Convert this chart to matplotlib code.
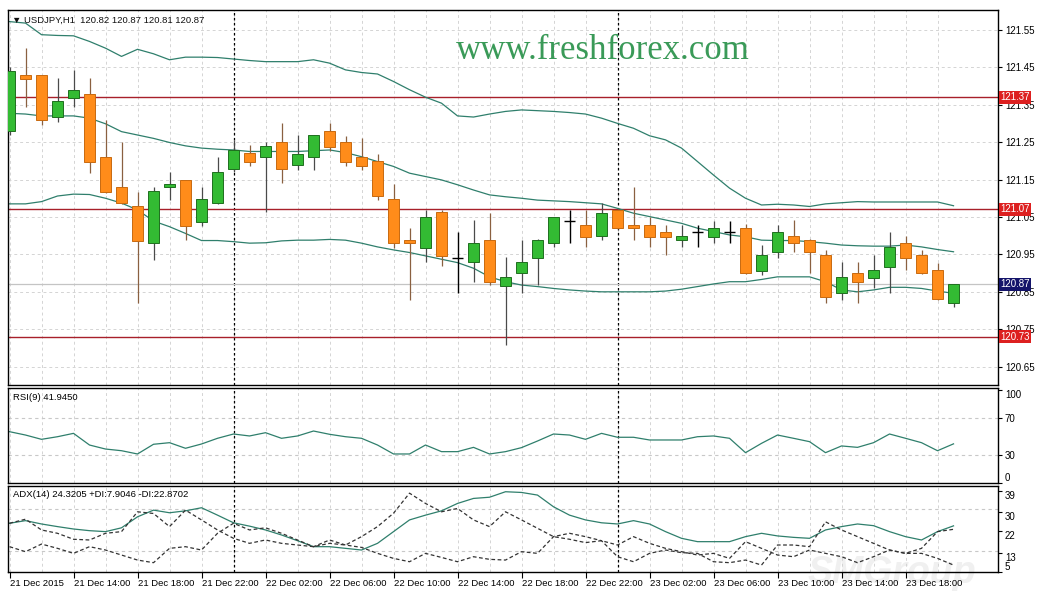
"""USDJPY H1 chart with Bollinger bands, RSI(9) and ADX(14) panels"""
import matplotlib
matplotlib.use('Agg')
import matplotlib.pyplot as plt
import numpy as np
from matplotlib.transforms import blended_transform_factory

plt.rcParams['font.family'] = ['Liberation Sans', 'DejaVu Sans']

# hourly candles, 21 Dec 10:00 .. 23 Dec 21:00
opens = [121.28, 121.43, 121.43, 121.318, 121.367, 121.379, 121.211, 121.131, 121.079, 120.980,
         121.129, 121.149, 121.037, 121.088, 121.178, 121.220, 121.209, 121.250, 121.188, 121.210,
         121.280, 121.251, 121.211, 121.200, 121.098, 120.988, 120.968, 121.063, 120.940, 120.929,
         120.988, 120.866, 120.899, 120.940, 120.980, 121.039, 121.029, 120.999, 121.069, 121.029,
         121.029, 121.011, 120.988, 121.011, 120.997, 121.011, 121.020, 120.906, 120.957, 120.999,
         120.988, 120.948, 120.848, 120.899, 120.888, 120.917, 120.980, 120.948, 120.908, 120.82]
highs = [121.45, 121.501, 121.43, 121.421, 121.443, 121.421, 121.309, 121.251, 121.118, 121.131,
         121.171, 121.15, 121.131, 121.211, 121.256, 121.243, 121.251, 121.300, 121.269, 121.27,
         121.300, 121.267, 121.260, 121.218, 121.138, 121.020, 121.069, 121.069, 121.011, 121.042,
         121.060, 120.944, 120.988, 120.99, 121.05, 121.069, 121.069, 121.088, 121.07, 121.131,
         121.049, 121.029, 121.029, 121.029, 121.039, 121.039, 121.03, 120.975, 121.029, 121.042,
         120.99, 120.962, 120.930, 120.930, 120.948, 121.011, 120.999, 120.962, 120.928, 120.87]
lows = [121.27, 121.345, 121.296, 121.305, 121.345, 121.167, 121.115, 121.085, 120.819, 120.935,
        121.095, 120.988, 121.025, 121.085, 121.171, 121.185, 121.064, 121.140, 121.176, 121.176,
        121.225, 121.185, 121.176, 121.095, 120.966, 120.828, 120.930, 120.918, 120.846, 120.877,
        120.868, 120.708, 120.846, 120.868, 120.969, 120.980, 120.971, 120.988, 121.018, 120.988,
        120.969, 120.948, 120.969, 120.969, 120.980, 120.980, 120.897, 120.895, 120.940, 120.957,
        120.899, 120.819, 120.828, 120.819, 120.859, 120.846, 120.908, 120.897, 120.828, 120.81]
closes = [121.44, 121.418, 121.309, 121.360, 121.390, 121.198, 121.118, 121.088, 120.987, 121.120,
          121.138, 121.027, 121.098, 121.170, 121.229, 121.198, 121.240, 121.178, 121.218, 121.268,
          121.238, 121.198, 121.186, 121.107, 120.980, 120.980, 121.049, 120.947, 120.940, 120.980,
          120.877, 120.890, 120.929, 120.988, 121.049, 121.039, 120.997, 121.060, 121.020, 121.020,
          120.997, 120.997, 120.999, 121.011, 121.020, 121.011, 120.899, 120.948, 121.011, 120.980,
          120.957, 120.837, 120.890, 120.877, 120.908, 120.971, 120.940, 120.899, 120.830, 120.87]

bb_upper = [121.572, 121.568, 121.537, 121.535, 121.534, 121.519, 121.501, 121.479, 121.498, 121.486,
            121.470, 121.477, 121.477, 121.476, 121.472, 121.468, 121.465, 121.465, 121.465, 121.470,
            121.461, 121.443, 121.436, 121.432, 121.412, 121.390, 121.370, 121.354, 121.320, 121.317,
            121.325, 121.332, 121.336, 121.334, 121.332, 121.329, 121.325, 121.314, 121.300, 121.287,
            121.267, 121.256, 121.234, 121.198, 121.162, 121.127, 121.100, 121.082, 121.084, 121.082,
            121.078, 121.085, 121.088, 121.091, 121.090, 121.090, 121.090, 121.090, 121.090, 121.080]
bb_middle = [121.327, 121.325, 121.320, 121.320, 121.320, 121.314, 121.299, 121.278, 121.269, 121.260,
             121.249, 121.240, 121.234, 121.231, 121.229, 121.225, 121.225, 121.225, 121.225, 121.227,
             121.229, 121.222, 121.211, 121.198, 121.185, 121.167, 121.158, 121.149, 121.136, 121.122,
             121.109, 121.104, 121.100, 121.095, 121.093, 121.091, 121.088, 121.085, 121.073, 121.060,
             121.051, 121.042, 121.033, 121.020, 121.011, 121.002, 120.997, 120.988, 120.987, 120.987,
             120.984, 120.980, 120.975, 120.973, 120.972, 120.972, 120.975, 120.970, 120.963, 120.957]
bb_lower = [121.085, 121.085, 121.091, 121.106, 121.111, 121.110, 121.100, 121.087, 121.069, 121.039,
            121.024, 121.006, 120.987, 120.987, 120.984, 120.980, 120.981, 120.986, 120.988, 120.988,
            120.990, 120.988, 120.980, 120.970, 120.962, 120.955, 120.946, 120.937, 120.928, 120.913,
            120.890, 120.877, 120.868, 120.864, 120.859, 120.855, 120.852, 120.850, 120.850, 120.850,
            120.850, 120.852, 120.857, 120.864, 120.871, 120.877, 120.877, 120.883, 120.890, 120.890,
            120.890, 120.877, 120.855, 120.850, 120.855, 120.862, 120.862, 120.859, 120.852, 120.846]

rsi = [55.0, 51.4, 46.8, 49.6, 53.2, 40.7, 36.4, 34.6, 31.1, 41.5,
       43.2, 37.2, 41.8, 47.9, 52.5, 50.4, 53.9, 47.9, 50.4, 55.7,
       52.2, 49.6, 47.9, 40.7, 31.1, 31.1, 40.7, 33.6, 33.6, 38.2,
       31.1, 33.6, 37.9, 45.0, 52.5, 51.4, 46.8, 53.2, 49.0, 49.0,
       46.1, 46.1, 46.1, 49.6, 50.4, 47.9, 32.5, 42.5, 51.4, 47.9,
       44.3, 32.5, 39.7, 38.2, 43.2, 52.5, 47.9, 43.2, 34.6, 41.945]

adx = [25.4, 26.5, 25.1, 24.0, 23.0, 22.3, 21.9, 23.5, 28.1, 30.9,
       29.8, 30.6, 31.9, 28.8, 25.6, 24.2, 22.6, 20.5, 18.1, 15.6,
       15.6, 14.9, 14.2, 17.0, 21.9, 26.8, 28.8, 30.6, 33.7, 35.8,
       36.3, 38.6, 38.3, 37.2, 32.3, 28.8, 26.8, 25.6, 25.1, 26.5,
       25.1, 21.9, 19.1, 17.7, 17.7, 17.7, 19.8, 21.2, 20.1, 19.5,
       19.1, 22.6, 24.0, 25.1, 24.4, 21.9, 19.8, 18.4, 21.9, 24.3205]
plus_di = [15.6, 13.5, 16.7, 14.9, 12.8, 15.6, 14.2, 12.1, 10.0, 8.9,
           14.9, 15.6, 14.2, 21.2, 25.4, 22.6, 23.5, 21.2, 18.4, 15.6,
           18.4, 16.3, 15.3, 12.8, 10.7, 9.3, 12.8, 11.1, 9.3, 11.4,
           10.3, 10.0, 13.5, 12.8, 19.8, 21.2, 19.8, 18.1, 11.4, 9.3,
           12.8, 14.2, 13.1, 12.8, 9.3, 8.9, 10.0, 7.9, 16.3, 16.3,
           15.6, 26.0, 22.6, 19.8, 17.0, 14.2, 12.8, 12.8, 10.7, 7.9046]
minus_di = [25.4, 27.1, 22.6, 21.2, 18.7, 18.4, 21.2, 21.9, 30.2, 29.5,
            24.0, 30.9, 26.8, 22.6, 19.1, 17.0, 18.4, 17.0, 16.3, 15.6,
            17.0, 16.3, 19.8, 24.0, 29.6, 38.0, 33.7, 30.2, 31.6, 26.8,
            24.0, 30.2, 26.8, 23.3, 19.8, 18.7, 17.3, 18.1, 16.3, 19.8,
            17.0, 14.9, 13.5, 12.1, 12.8, 10.7, 17.7, 14.9, 12.1, 11.4,
            14.2, 12.8, 11.4, 8.9, 11.4, 14.2, 12.8, 14.9, 21.9, 22.8702]

levels = [121.37, 121.07, 120.73]
day_breaks = [14, 38]
price_ticks = [120.65, 120.75, 120.85, 120.95, 121.05, 121.15, 121.25, 121.35, 121.45, 121.55]
time_labels = ['21 Dec 2015', '21 Dec 14:00', '21 Dec 18:00', '21 Dec 22:00', '22 Dec 02:00',
               '22 Dec 06:00', '22 Dec 10:00', '22 Dec 14:00', '22 Dec 18:00', '22 Dec 22:00',
               '23 Dec 02:00', '23 Dec 06:00', '23 Dec 10:00', '23 Dec 14:00', '23 Dec 18:00']

W, H = 1042, 591
fig = plt.figure(figsize=(W / 100, H / 100), dpi=100)
fig.patch.set_facecolor('white')
ax = fig.add_axes([8 / W, 206 / H, 990 / W, 375 / H])
ax_rsi = fig.add_axes([8 / W, 108 / H, 990 / W, 95 / H])
ax_adx = fig.add_axes([8 / W, 19 / H, 990 / W, 86 / H])

idx = np.arange(len(opens))
grid_col = '#d4d4d4'
line_col = '#2f7f6c'

for a in (ax, ax_rsi, ax_adx):
    a.set_xlim(-0.094, 61.78)
    a.patch.set_alpha(0)
    for s in a.spines.values():
        s.set_color('black')
        s.set_linewidth(1.0)
    for gx in idx[::2]:
        a.axvline(gx, color=grid_col, lw=0.7, ls=(0, (3, 3)), zorder=0)
    for d in day_breaks:
        a.axvline(d, color='black', lw=0.9, ls=(0, (2, 2)), zorder=1)
    a.yaxis.tick_right()
    a.tick_params(axis='y', length=3, width=0.8, pad=2, labelsize=7, colors='black')

# faint watermark behind everything
fig.text(0.775, 0.0, 'SMGroup', fontsize=27, color='#f0f0f0', style='italic',
         fontweight='bold', va='bottom', ha='left', zorder=-1)

# --- main price panel ---
ax.set_ylim(120.601, 121.603)
ax.set_yticks(price_ticks)
ax.set_yticklabels([f'{p:.2f}' for p in price_ticks])
for p in price_ticks:
    ax.axhline(p, color=grid_col, lw=0.7, ls=(0, (3, 3)), zorder=0)
ax.tick_params(axis='x', bottom=False, labelbottom=False)

ax.axhline(closes[-1], color='#c4c4c4', lw=0.9, zorder=1)
for lv in levels:
    ax.axhline(lv, color='#a8202a', lw=1.0, zorder=1)

ax.plot(idx, bb_upper, color=line_col, lw=0.9, zorder=2)
ax.plot(idx, bb_middle, color=line_col, lw=0.9, zorder=2)
ax.plot(idx, bb_lower, color=line_col, lw=0.9, zorder=2)

o = np.array(opens)
c = np.array(closes)
up = c > o
down = c < o
doji = c == o
ax.vlines(idx[up], np.array(lows)[up], np.array(highs)[up], color='#4a4a4a', lw=0.9, zorder=3)
ax.vlines(idx[down], np.array(lows)[down], np.array(highs)[down], color='#8a6040', lw=0.9, zorder=3)
ax.vlines(idx[doji], np.array(lows)[doji], np.array(highs)[doji], color='black', lw=1.0, zorder=3)
ax.bar(idx[up], (c - o)[up], bottom=o[up], width=0.69, color='#33bb33',
       edgecolor='#1f6f1f', linewidth=0.7, zorder=4)
ax.bar(idx[down], (o - c)[down], bottom=c[down], width=0.69, color='#ff8c1a',
       edgecolor='#c86a10', linewidth=0.7, zorder=4)
ax.hlines(c[doji], idx[doji] - 0.35, idx[doji] + 0.35, color='black', lw=1.0, zorder=4)

trans = blended_transform_factory(ax.transAxes, ax.transData)
for lv in levels:
    ax.text(1.002, lv, f'{lv:.2f}', transform=trans, color='white', fontsize=7,
            va='center', ha='left', zorder=10,
            bbox=dict(boxstyle='square,pad=0.15', fc='#dd2020', ec='none'))
ax.text(1.002, closes[-1], f'{closes[-1]:.2f}', transform=trans, color='white', fontsize=7,
        va='center', ha='left', zorder=10,
        bbox=dict(boxstyle='square,pad=0.15', fc='#14146a', ec='none'))

ax.text(0.004, 0.984,
        f'\u25bc USDJPY,H1  {opens[-1]:.2f} {highs[-1]:.2f} {lows[-1]:.2f} {closes[-1]:.2f}',
        transform=ax.transAxes, va='top', ha='left', fontsize=6.8, color='#101010')
ax.text(0.601, 0.891, 'www.freshforex.com', transform=ax.transAxes, ha='center', va='center',
        fontsize=25, color='#3a9a58', family=['Liberation Serif', 'DejaVu Serif'])

# --- RSI panel ---
ax_rsi.set_ylim(0, 101.8)
ax_rsi.axhline(70, color='#c8c8c8', lw=0.8, ls=(0, (3, 3)), zorder=0)
ax_rsi.axhline(30, color='#c8c8c8', lw=0.8, ls=(0, (3, 3)), zorder=0)
ax_rsi.plot(idx, rsi, color=line_col, lw=0.9)
ax_rsi.set_yticks([100, 70, 30, 0])
rl = ax_rsi.get_yticklabels()
rl[0].set_va('top')
rl[-1].set_va('bottom')
ax_rsi.tick_params(axis='x', bottom=False, labelbottom=False)
ax_rsi.text(0.005, 0.95, f'RSI(9) {rsi[-1]:.4f}',
            transform=ax_rsi.transAxes, va='top', ha='left', fontsize=6.8)

# --- ADX panel ---
ax_adx.set_ylim(5, 41)
ax_adx.axhline(31.5, color='#c8c8c8', lw=0.8, ls=(0, (3, 3)), zorder=0)
ax_adx.axhline(14, color='#c8c8c8', lw=0.8, ls=(0, (3, 3)), zorder=0)
ax_adx.plot(idx, adx, color=line_col, lw=0.9)
ax_adx.plot(idx, plus_di, color='#333333', lw=0.9, ls=(0, (3, 2)))
ax_adx.plot(idx, minus_di, color='#333333', lw=0.9, ls=(0, (3, 2)))
ax_adx.set_yticks([39, 30, 22, 13, 5])
al = ax_adx.get_yticklabels()
for lab in al[:-1]:
    lab.set_va('top')
al[-1].set_va('bottom')
ax_adx.set_xticks(idx[::4][:len(time_labels)])
ax_adx.set_xticklabels(time_labels, ha='left')
ax_adx.tick_params(axis='x', length=4, width=0.8, pad=1, labelsize=6.8, colors='black')
ax_adx.text(0.005, 0.95,
            f'ADX(14) {adx[-1]:.4f} +DI:{plus_di[-1]:.4f} -DI:{minus_di[-1]:.4f}',
            transform=ax_adx.transAxes, va='top', ha='left', fontsize=6.8)

fig.savefig('out.png', dpi=100)
